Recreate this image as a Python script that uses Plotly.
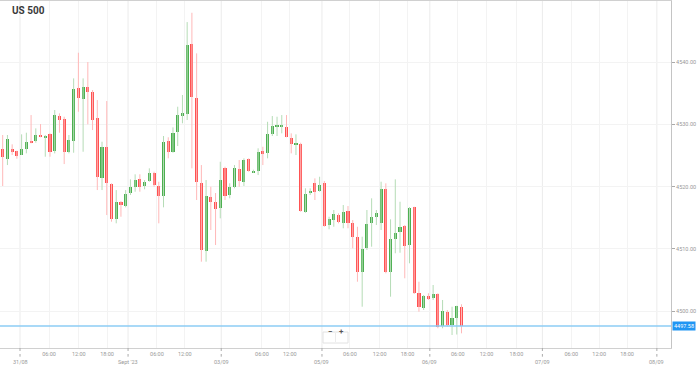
import plotly.graph_objects as go

# ---------------- data (hourly candles, US 500) ----------------
open_ = [4526.05, 4524.49, 4526.00, 4525.67, 4525.13, 4526.05, 4527.38, 4527.38, 4528.25, 4527.86,
         4528.41, 4525.77, 4531.40, 4530.87, 4525.61, 4527.38, 4535.90, 4534.04, 4536.06, 4535.16,
         4530.98, 4521.33, 4526.41, 4520.42, 4514.74, 4517.57, 4516.88, 4518.92, 4519.89, 4521.17,
         4520.10, 4520.95, 4522.14, 4520.10, 4518.49, 4527.33, 4525.61, 4528.83, 4531.35, 4531.67,
         4542.93, 4534.20, 4520.53, 4509.69, 4518.38, 4517.57, 4516.51, 4522.94, 4518.65, 4519.98,
         4522.83, 4520.79, 4524.39, 4522.30, 4522.56, 4525.72, 4525.35, 4528.41, 4529.63, 4529.63,
         4529.63, 4527.86, 4526.69, 4526.80, 4515.87, 4518.92, 4520.63, 4519.34, 4520.53, 4513.83,
         4514.63, 4515.43, 4514.20, 4516.13, 4514.10, 4511.95, 4506.22, 4510.18, 4514.10, 4515.16,
         4514.20, 4519.57, 4506.32, 4511.58, 4512.65, 4513.67, 4510.61, 4516.67, 4502.85, 4500.43,
         4502.41, 4502.04, 4502.73, 4497.64, 4499.89, 4497.75, 4498.83, 4500.69]
high = [4528.30, 4528.30, 4526.80, 4525.77, 4528.41, 4528.67, 4531.51, 4529.37, 4530.06, 4528.30,
        4528.57, 4532.32, 4531.78, 4531.24, 4528.30, 4537.41, 4541.53, 4537.41, 4540.03, 4535.53,
        4533.92, 4527.22, 4533.76, 4520.53, 4519.45, 4517.68, 4519.45, 4521.17, 4521.98, 4521.98,
        4521.06, 4522.94, 4522.40, 4520.79, 4528.14, 4527.93, 4529.53, 4532.85, 4534.73, 4546.46,
        4547.96, 4541.43, 4523.47, 4521.06, 4519.98, 4518.97, 4524.00, 4523.20, 4520.53, 4523.47,
        4524.28, 4524.55, 4524.55, 4522.72, 4526.16, 4526.41, 4530.43, 4531.35, 4531.24, 4531.51,
        4531.51, 4528.57, 4528.41, 4527.06, 4519.73, 4519.73, 4521.33, 4521.59, 4520.90, 4515.16,
        4516.24, 4515.71, 4517.04, 4516.88, 4514.63, 4513.55, 4511.95, 4516.24, 4518.12, 4516.24,
        4520.79, 4520.53, 4514.74, 4521.17, 4517.57, 4513.83, 4516.72, 4516.77, 4504.71, 4502.57,
        4502.85, 4504.18, 4502.85, 4501.77, 4500.16, 4500.69, 4500.85, 4501.08]
low = [4520.10, 4523.47, 4525.08, 4524.49, 4525.08, 4525.35, 4526.96, 4527.06, 4527.93, 4524.81,
       4524.81, 4525.35, 4528.67, 4523.63, 4525.35, 4525.45, 4532.04, 4525.61, 4530.02, 4529.10,
       4519.45, 4519.45, 4515.43, 4514.36, 4514.10, 4515.16, 4516.67, 4518.65, 4519.18, 4519.18,
       4519.57, 4520.79, 4519.98, 4514.10, 4516.67, 4524.55, 4525.45, 4526.53, 4530.18, 4530.71,
       4522.94, 4517.85, 4507.93, 4507.93, 4513.02, 4510.61, 4514.90, 4517.85, 4518.12, 4519.73,
       4519.98, 4520.10, 4522.40, 4522.19, 4521.86, 4523.47, 4524.55, 4528.14, 4528.14, 4528.57,
       4527.93, 4525.35, 4525.08, 4515.96, 4515.80, 4518.65, 4517.85, 4519.18, 4513.55, 4513.14,
       4513.55, 4514.10, 4513.30, 4513.30, 4510.08, 4504.71, 4500.69, 4509.81, 4510.34, 4513.83,
       4513.02, 4506.06, 4502.30, 4509.28, 4509.37, 4505.26, 4507.67, 4502.73, 4499.89, 4500.16,
       4501.77, 4501.77, 4497.22, 4497.22, 4497.48, 4496.14, 4496.22, 4496.41]
close = [4524.71, 4527.65, 4525.51, 4524.97, 4526.00, 4527.22, 4527.12, 4528.25, 4528.02, 4528.18,
         4525.61, 4531.51, 4530.71, 4525.51, 4527.49, 4535.69, 4534.20, 4535.96, 4535.26, 4530.71,
         4521.50, 4526.41, 4520.53, 4514.79, 4517.57, 4517.04, 4518.81, 4519.98, 4521.06, 4519.98,
         4520.79, 4522.23, 4520.26, 4518.49, 4527.22, 4525.61, 4528.67, 4531.51, 4531.78, 4542.77,
         4534.36, 4520.79, 4509.81, 4518.49, 4517.57, 4516.35, 4521.06, 4518.49, 4519.98, 4522.94,
         4520.95, 4524.28, 4522.51, 4522.56, 4525.51, 4525.19, 4528.41, 4529.74, 4529.79, 4529.79,
         4528.02, 4526.80, 4527.06, 4516.08, 4518.81, 4519.29, 4519.18, 4520.26, 4513.67, 4514.84,
         4515.59, 4514.26, 4515.96, 4514.10, 4511.95, 4506.32, 4509.97, 4513.99, 4515.06, 4515.80,
         4519.57, 4506.32, 4511.58, 4512.49, 4513.55, 4510.45, 4516.51, 4502.85, 4500.59, 4502.41,
         4501.88, 4502.68, 4497.48, 4500.05, 4497.75, 4498.83, 4500.80, 4497.58]

last_price = 4497.58
title = "US 500"

time_tick_pos = [9.79, 16.1, 22.05, 32.6, 38.5, 54.8, 60.7, 73.4, 79.7, 85.6,
                 96.2, 102.3, 108.6, 120.2, 126.1, 132.0]
time_tick_text = ["06:00", "12:00", "18:00", "06:00", "12:00", "06:00", "12:00", "06:00", "12:00", "18:00",
                  "06:00", "12:00", "18:00", "06:00", "12:00", "18:00"]
date_tick_pos = [3.66, 26.5, 46.2, 67.5, 90.3, 114.1, 138.3]
date_tick_text = ["31/08", "Sept '23", "03/09", "05/09", "06/09", "07/09", "08/09"]

price_ticks = [4500, 4510, 4520, 4530, 4540]

# ---------------- styling ----------------
UP = "#4caf50"
DOWN = "#ff5252"
UP_WICK = "#b5dcb6"
DOWN_WICK = "#ffb8b8"
FONT = "Roboto"

idx = list(range(len(open_)))
fig = go.Figure()

# wicks
for up, col in ((True, UP_WICK), (False, DOWN_WICK)):
    xs, ys = [], []
    for i in idx:
        if (close[i] >= open_[i]) == up:
            xs += [i, i, None]
            ys += [low[i], high[i], None]
    fig.add_trace(go.Scatter(x=xs, y=ys, mode="lines", line=dict(color=col, width=1),
                             hoverinfo="skip", showlegend=False))

# bodies
bases = [min(o, c) for o, c in zip(open_, close)]
heights = [max(abs(c - o), 0.18) for o, c in zip(open_, close)]
colors = [UP if c >= o else DOWN for o, c in zip(open_, close)]
fig.add_trace(go.Bar(x=idx, y=heights, base=bases, width=0.66,
                     marker=dict(color=colors, line=dict(width=0)),
                     showlegend=False, hoverinfo="skip"))

# last price line
fig.add_shape(type="line", xref="paper", x0=0, x1=1, yref="y", y0=last_price, y1=last_price,
              line=dict(color="#8ccdf5", width=1.5), layer="above")
fig.add_annotation(xref="paper", x=1, xanchor="left", xshift=1, yref="y", y=last_price,
                   text=f"{last_price:.2f}", showarrow=False, bgcolor="#2196f3",
                   font=dict(family=FONT, size=5.5, color="white"), borderpad=1)

# date gridlines + dotted tick marks + labels
for p, t in zip(date_tick_pos, date_tick_text):
    fig.add_shape(type="line", xref="x", x0=p, x1=p, yref="paper", y0=0, y1=1,
                  line=dict(color="#ebebeb", width=1), layer="below")
    fig.add_shape(type="line", xref="x", x0=p, x1=p, yref="paper", y0=0, y1=-0.025,
                  line=dict(color="#aaaaaa", width=1, dash="dot"))
    fig.add_annotation(xref="x", x=p, yref="paper", y=-0.04, yanchor="middle", text=t,
                       showarrow=False, font=dict(family=FONT, size=5.5, color="#999999"))

# title
fig.add_annotation(xref="paper", x=10 / 671, xanchor="left", yref="paper", y=1 - 10 / 347,
                   yanchor="middle", text="<b>" + title + "</b>", showarrow=False,
                   font=dict(family=FONT, size=10, color="#3a3a3a"))

# zoom buttons
fig.add_shape(type="rect", xref="paper", x0=323 / 671, x1=348 / 671, yref="paper",
              y0=(348 - 343) / 347, y1=(348 - 332) / 347,
              line=dict(color="#e2e2e2", width=1), fillcolor="white", layer="above")
fig.add_shape(type="line", xref="paper", x0=335.5 / 671, x1=335.5 / 671, yref="paper",
              y0=(348 - 342) / 347, y1=(348 - 333) / 347, line=dict(color="#ececec", width=1))
for xp, t in ((329.5, "−"), (341.5, "+")):
    fig.add_annotation(xref="paper", x=xp / 671, yref="paper", y=(348 - 337.5) / 347,
                       text="<b>" + t + "</b>", showarrow=False,
                       font=dict(family=FONT, size=8, color="#555555"))

fig.update_layout(
    width=699, height=368,
    margin=dict(l=0, r=28, t=1, b=20),
    paper_bgcolor="white", plot_bgcolor="white",
    bargap=0, barmode="overlay",
    font=dict(family=FONT, size=6, color="#999999"),
    xaxis=dict(range=[-0.571, 141.29], tickvals=time_tick_pos, ticktext=time_tick_text,
               showgrid=True, gridcolor="#f3f3f3", gridwidth=1, zeroline=False,
               showline=True, linecolor="#d0d0d0", mirror=True, ticks="",
               tickfont=dict(family=FONT, size=5.5, color="#999999"), fixedrange=True),
    yaxis=dict(range=[4494.05, 4549.85], side="right", tickvals=price_ticks,
               ticktext=[f"{v:.2f}" for v in price_ticks],
               showgrid=True, gridcolor="#f3f3f3", zeroline=False,
               showline=True, linecolor="#c4c4c4", ticks="outside", ticklen=3,
               tickcolor="#aaaaaa", tickfont=dict(family=FONT, size=5.5, color="#999999")),
)

fig.write_html("out.html", config={"displayModeBar": False},
               post_script="document.body.style.margin='0';document.body.style.overflow='hidden';")
